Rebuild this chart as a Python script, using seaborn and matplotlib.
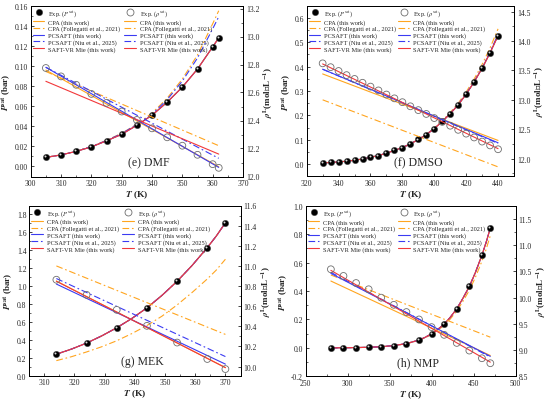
import numpy as np
import pandas as pd
import seaborn as sns
import matplotlib
matplotlib.use("Agg")
import matplotlib.pyplot as plt
from matplotlib.lines import Line2D
from matplotlib.ticker import AutoMinorLocator, MultipleLocator, FormatStrFormatter
from matplotlib.transforms import offset_copy

# ---------------- data ----------------
# (e) DMF
dmf_T = [305, 310, 315, 320, 325, 330, 335, 340, 345, 350, 355, 360, 362]
dmf_P = [0.009, 0.0115, 0.015, 0.0195, 0.0255, 0.032, 0.041, 0.051, 0.064, 0.079, 0.097, 0.119, 0.128]
dmf_rho = [12.775, 12.715, 12.655, 12.590, 12.526, 12.464, 12.404, 12.344, 12.280, 12.220, 12.155, 12.088, 12.062]
dmf_P_fit = [0.009, 0.0115, 0.015, 0.0195, 0.0255, 0.032, 0.041, 0.051, 0.064, 0.079, 0.097, 0.119, 0.128]
dmf_P_cpaf = [0.009, 0.0117, 0.0153, 0.0199, 0.026, 0.033, 0.042, 0.053, 0.068, 0.087, 0.111, 0.142, 0.155]
dmf_P_pcn = [0.009, 0.0116, 0.0152, 0.0198, 0.0258, 0.0327, 0.0418, 0.052, 0.0665, 0.085, 0.108, 0.137, 0.149]
dmf_T_end = [305, 362]
dmf_rho_cpa = [12.76, 12.07]
dmf_rho_cpaf = [12.75, 12.22]
dmf_rho_pc = [12.78, 12.065]
dmf_rho_pcn = [12.78, 12.13]
dmf_rho_mie = [12.68, 12.16]

# (f) DMSO
dmso_T = [330, 335, 340, 345, 350, 355, 360, 365, 370, 375, 380, 385,
          390, 395, 400, 405, 410, 415, 420, 425, 430, 435, 440]
dmso_P = [0.005, 0.007, 0.009, 0.012, 0.016, 0.021, 0.028, 0.035, 0.045, 0.056, 0.068, 0.083,
          0.101, 0.121, 0.146, 0.175, 0.207, 0.243, 0.287, 0.337, 0.393, 0.457, 0.527]
dmso_rho = [13.62, 13.555, 13.49, 13.42, 13.355, 13.29, 13.225, 13.16, 13.09, 13.025, 12.96, 12.89,
            12.825, 12.76, 12.69, 12.625, 12.56, 12.49, 12.425, 12.36, 12.29, 12.225, 12.16]
dmso_P_fit = dmso_P
dmso_P_cpaf = [0.005, 0.007, 0.009, 0.012, 0.016, 0.021, 0.028, 0.035, 0.045, 0.056, 0.068, 0.083,
               0.101, 0.122, 0.148, 0.178, 0.212, 0.25, 0.296, 0.349, 0.409, 0.477, 0.555]
dmso_P_pcn = [0.005, 0.007, 0.009, 0.012, 0.016, 0.021, 0.028, 0.035, 0.045, 0.056, 0.068, 0.083,
              0.101, 0.121, 0.146, 0.175, 0.208, 0.245, 0.289, 0.339, 0.396, 0.461, 0.532]
dmso_T_end = [330, 440]
dmso_rho_cpa = [13.44, 12.31]
dmso_rho_cpaf = [13.0, 11.86]
dmso_rho_pc = [13.52, 12.27]
dmso_rho_pcn = [13.52, 12.26]
dmso_rho_mie = [13.61, 12.17]

# (g) MEK
mek_T = [314, 324, 334, 344, 354, 364, 370]
mek_P = [0.24, 0.364, 0.535, 0.757, 1.054, 1.43, 1.707]
mek_rho = [10.863, 10.713, 10.564, 10.405, 10.239, 10.076, 9.976]
mek_T_fit = [314, 319, 324, 329, 334, 339, 344, 349, 354, 359, 364, 367, 370]
mek_P_fit = [0.24, 0.297, 0.364, 0.444, 0.535, 0.639, 0.757, 0.897, 1.054, 1.232, 1.43, 1.56, 1.707]
mek_P_cpaf = [0.168, 0.212, 0.265, 0.323, 0.39, 0.47, 0.56, 0.665, 0.79, 0.93, 1.08, 1.18, 1.30]
mek_P_pcn = mek_P_fit
mek_T_end = [314, 370]
mek_rho_cpa = [10.85, 9.99]
mek_rho_cpaf = [11.0, 10.32]
mek_rho_pc = [10.82, 10.025]
mek_rho_pcn = [10.875, 10.10]
mek_rho_mie = [10.848, 9.99]

# (h) NMP
nmp_T = [280, 295, 310, 325, 340, 355, 370, 385, 400, 415, 430, 445, 460, 470]
nmp_P = [0.000, 0.001, 0.002, 0.004, 0.008, 0.016, 0.030, 0.055, 0.099, 0.167, 0.275, 0.432, 0.652, 0.843]
nmp_rho = [10.539, 10.412, 10.277, 10.158, 9.998, 9.862, 9.724, 9.583, 9.437, 9.29, 9.136, 8.99, 8.844, 8.749]
nmp_T_fit = [280, 295, 310, 325, 340, 355, 370, 385, 392, 400, 407, 415, 422, 430, 437, 445, 452, 460, 465, 470]
nmp_P_fit = [0.0, 0.001, 0.002, 0.004, 0.008, 0.016, 0.030, 0.055, 0.073, 0.099, 0.128, 0.167, 0.213,
             0.275, 0.345, 0.432, 0.527, 0.652, 0.742, 0.843]
nmp_P_cpaf = [0.0, 0.001, 0.002, 0.004, 0.008, 0.0155, 0.029, 0.053, 0.070, 0.094, 0.122, 0.158, 0.201,
              0.259, 0.324, 0.405, 0.493, 0.61, 0.693, 0.79]
nmp_P_pcn = nmp_P_fit
nmp_T_end = [280, 470]
nmp_rho_cpa = [10.315, 8.896]
nmp_rho_cpaf = [10.43, 9.245]
nmp_rho_pc = [10.46, 8.88]
nmp_rho_pcn = [10.48, 8.866]
nmp_rho_mie = [10.518, 8.77]

model_names = ["CPA (this work)", "CPA (Follegatti et al., 2021)", "PCSAFT (this work)",
               "PCSAFT (Niu et al., 2025)", "SAFT-VR Mie (this work)"]

ORANGE = "#ffa51f"
BLUE = "#3b3bf2"
RED = "#f2383a"
DASHDOT = (0, (6, 2.5, 1.5, 2.5))
model_styles = [(ORANGE, "-"), (ORANGE, DASHDOT), (BLUE, "-"), (BLUE, DASHDOT), (RED, "-")]

sns.set_style("ticks")
plt.rcParams["font.family"] = ["Liberation Serif", "DejaVu Serif"]
plt.rcParams["mathtext.fontset"] = "stix"
plt.rcParams["axes.unicode_minus"] = False
plt.rcParams["xtick.direction"] = "in"
plt.rcParams["ytick.direction"] = "in"
plt.rcParams["axes.linewidth"] = 0.7

LW = 0.8

fig = plt.figure(figsize=(5.5, 4.02), dpi=100)


def style_axis(ax, xlim, xstep, ylim, ystep, fmt):
    ax.set_xlim(xlim)
    ax.set_ylim(ylim)
    ax.xaxis.set_major_locator(MultipleLocator(xstep))
    ax.yaxis.set_major_locator(MultipleLocator(ystep))
    ax.xaxis.set_minor_locator(AutoMinorLocator(2))
    ax.yaxis.set_minor_locator(AutoMinorLocator(2))
    ax.yaxis.set_major_formatter(FormatStrFormatter(fmt))
    ax.tick_params(which="major", length=2.5, width=0.6, labelsize=5.5, pad=2)
    ax.tick_params(which="minor", length=1.4, width=0.5)
    for s in ax.spines.values():
        s.set_visible(True)
        s.set_linewidth(0.7)
        s.set_color("black")


def draw_panel(rect, p):
    ax = fig.add_axes(rect)
    ax2 = ax.twinx()

    # vapour pressure curves
    p_curves = [p["P_fit"], p["P_cpaf"], p["P_fit"], p["P_pcn"], p["P_fit"]]
    for yv, (c, ls) in zip(p_curves, model_styles):
        sns.lineplot(x=p["T_fit"], y=yv, ax=ax, color=c, linestyle=ls, lw=LW,
                     estimator=None, sort=False)
    sns.scatterplot(x=p["T"], y=p["P"], ax=ax, color="black", s=21, edgecolor="#444",
                    linewidth=0.3, zorder=5)
    ax.scatter(p["T"], p["P"], s=2, color="white", alpha=0.85, zorder=6, lw=0,
               transform=offset_copy(ax.transData, fig=fig, x=-0.7, y=0.7, units="points"))

    # liquid density lines
    for yv, (c, ls) in zip(p["rho_lines"], model_styles):
        sns.lineplot(x=p["T_end"], y=yv, ax=ax2, color=c, linestyle=ls, lw=LW,
                     estimator=None, sort=False)
    sns.scatterplot(x=p["T"], y=p["rho"], ax=ax2, marker="o", fc="none", ec="#6e6e6e",
                    s=24, linewidth=0.6, zorder=5)

    style_axis(ax, p["xlim"], p["xstep"], p["ylim1"], p["ystep1"], p["fmt1"])
    style_axis(ax2, p["xlim"], p["xstep"], p["ylim2"], p["ystep2"], "%.1f")
    ax.tick_params(axis="x", top=False)
    ax2.tick_params(axis="x", top=False)

    ax.set_xlabel(r"$\mathbfit{T}$ (K)", fontsize=6.8, fontweight="bold", labelpad=1)
    ax.set_ylabel(r"$\mathbfit{P}^{\mathbf{sat}}$ (bar)", fontsize=6.5, fontweight="bold", labelpad=1)
    ax2.set_ylabel(r"$\mathbfit{\rho}^{\mathbf{L}}$(mol$\mathbf{\cdot}$L$^{\mathbf{-1}}$)",
                   fontsize=6.5, fontweight="bold", labelpad=2)

    ax.text(p["name_x"], 0.085, p["name"], transform=ax.transAxes, fontsize=8.5,
            ha="center", va="center")

    line_h = [Line2D([], [], color=c, ls=ls, lw=LW) for c, ls in model_styles]
    h_p = Line2D([], [], marker="o", ls="none", mfc="black", mec="#444", ms=4.6, mew=0.3)
    h_r = Line2D([], [], marker="o", ls="none", mfc="none", mec="#6e6e6e", ms=5, mew=0.6)
    kw = dict(fontsize=4.6, frameon=False, handlelength=1.8, handletextpad=0.6,
              labelspacing=0.15, borderaxespad=0.0, borderpad=0.35, loc="upper left")
    leg1 = ax2.legend([h_p] + line_h, [r"Exp. ($P^{\rm sat}$)"] + model_names,
                      bbox_to_anchor=(0.0, 1.0), **kw)
    ax2.add_artist(leg1)
    ax2.legend([h_r] + line_h, [r"Exp. ($\rho^{\rm sat}$)"] + model_names,
               bbox_to_anchor=(0.43, 1.0), **kw)
    return ax, ax2


panels = [
    ([30.7 / 550, 1 - 177.5 / 402, 212.3 / 550, 170.8 / 402],
     dict(T=dmf_T, P=dmf_P, rho=dmf_rho, T_fit=dmf_T, P_fit=dmf_P_fit, P_cpaf=dmf_P_cpaf,
          P_pcn=dmf_P_pcn, T_end=dmf_T_end,
          rho_lines=[dmf_rho_cpa, dmf_rho_cpaf, dmf_rho_pc, dmf_rho_pcn, dmf_rho_mie],
          xlim=(300, 370), xstep=10, ylim1=(-0.01, 0.16), ystep1=0.02, fmt1="%.2f",
          ylim2=(12.0, 13.22), ystep2=0.2, name="(e) DMF", name_x=0.555)),
    ([306.7 / 550, 1 - 177.3 / 402, 207.3 / 550, 170.6 / 402],
     dict(T=dmso_T, P=dmso_P, rho=dmso_rho, T_fit=dmso_T, P_fit=dmso_P_fit, P_cpaf=dmso_P_cpaf,
          P_pcn=dmso_P_pcn, T_end=dmso_T_end,
          rho_lines=[dmso_rho_cpa, dmso_rho_cpaf, dmso_rho_pc, dmso_rho_pcn, dmso_rho_mie],
          xlim=(320, 450), xstep=20, ylim1=(-0.05, 0.65), ystep1=0.1, fmt1="%.1f",
          ylim2=(11.7, 14.6), ystep2=0.5, name="(f) DMSO", name_x=0.54)),
    ([29.2 / 550, 1 - 376.7 / 402, 211.3 / 550, 170.2 / 402],
     dict(T=mek_T, P=mek_P, rho=mek_rho, T_fit=mek_T_fit, P_fit=mek_P_fit, P_cpaf=mek_P_cpaf,
          P_pcn=mek_P_pcn, T_end=mek_T_end,
          rho_lines=[mek_rho_cpa, mek_rho_cpaf, mek_rho_pc, mek_rho_pcn, mek_rho_mie],
          xlim=(305, 375), xstep=10, ylim1=(0.0, 1.9), ystep1=0.2, fmt1="%.1f",
          ylim2=(9.91, 11.6), ystep2=0.2, name="(g) MEK", name_x=0.535)),
    ([305.7 / 550, 1 - 377.3 / 402, 209.8 / 550, 170.6 / 402],
     dict(T=nmp_T, P=nmp_P, rho=nmp_rho, T_fit=nmp_T_fit, P_fit=nmp_P_fit, P_cpaf=nmp_P_cpaf,
          P_pcn=nmp_P_pcn, T_end=nmp_T_end,
          rho_lines=[nmp_rho_cpa, nmp_rho_cpaf, nmp_rho_pc, nmp_rho_pcn, nmp_rho_mie],
          xlim=(250, 500), xstep=50, ylim1=(-0.2, 1.0), ystep1=0.2, fmt1="%.1f",
          ylim2=(8.5, 11.75), ystep2=0.5, name="(h) NMP", name_x=0.535)),
]

for rect, p in panels:
    draw_panel(rect, p)

fig.savefig("out.png", dpi=100)
